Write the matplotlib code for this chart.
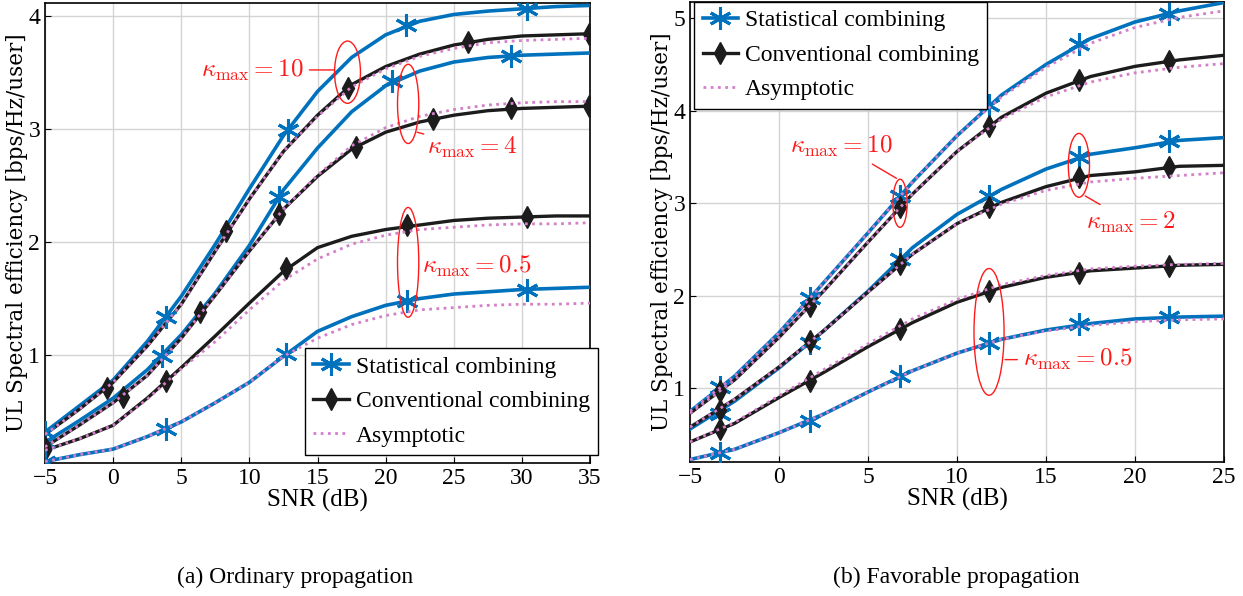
import matplotlib
matplotlib.use("Agg")
import matplotlib.pyplot as plt
from matplotlib.lines import Line2D
from matplotlib.patches import Ellipse

plt.rcParams['font.family'] = ['Liberation Serif', 'DejaVu Serif']
plt.rcParams['mathtext.fontset'] = 'cm'

# ---------------- (a) ordinary propagation ----------------
snr_a = [-5, -2.5, 0, 2.5, 5, 7.5, 10, 12.5, 15, 17.5, 20, 22.5, 25, 27.5, 30, 32.5, 35]

stat_a_k10 = [0.32, 0.55, 0.78, 1.12, 1.52, 1.98, 2.47, 2.94, 3.33, 3.63, 3.83, 3.95, 4.01, 4.04, 4.06, 4.08, 4.09]
conv_a_k10 = [0.30, 0.52, 0.76, 1.08, 1.45, 1.92, 2.38, 2.80, 3.12, 3.39, 3.55, 3.66, 3.74, 3.79, 3.82, 3.83, 3.84]
asym_a_k10 = [0.30, 0.52, 0.76, 1.08, 1.45, 1.92, 2.38, 2.80, 3.11, 3.37, 3.53, 3.64, 3.71, 3.76, 3.78, 3.79, 3.80]

stat_a_k4 = [0.23, 0.42, 0.62, 0.87, 1.18, 1.55, 1.97, 2.46, 2.83, 3.15, 3.38, 3.51, 3.59, 3.63, 3.65, 3.66, 3.67]
conv_a_k4 = [0.19, 0.38, 0.58, 0.82, 1.15, 1.53, 1.92, 2.29, 2.58, 2.82, 2.97, 3.06, 3.12, 3.16, 3.18, 3.19, 3.20]
asym_a_k4 = [0.19, 0.38, 0.58, 0.82, 1.15, 1.53, 1.92, 2.29, 2.59, 2.85, 3.01, 3.11, 3.17, 3.21, 3.23, 3.24, 3.24]

conv_a_k05 = [0.16, 0.26, 0.38, 0.62, 0.89, 1.17, 1.46, 1.74, 1.95, 2.05, 2.11, 2.15, 2.19, 2.21, 2.22, 2.23, 2.23]
asym_a_k05c = [0.16, 0.26, 0.38, 0.61, 0.88, 1.12, 1.40, 1.66, 1.85, 1.98, 2.06, 2.11, 2.13, 2.15, 2.16, 2.16, 2.17]
stat_a_k05 = [0.06, 0.12, 0.17, 0.28, 0.41, 0.58, 0.76, 0.99, 1.21, 1.34, 1.44, 1.50, 1.54, 1.56, 1.58, 1.59, 1.60]
asym_a_k05s = [0.06, 0.12, 0.17, 0.28, 0.41, 0.58, 0.76, 0.99, 1.15, 1.27, 1.35, 1.40, 1.42, 1.44, 1.45, 1.45, 1.46]

# marker positions (a)
mk_stat_a_k10 = ([-5, 3.9, 12.8, 21.5, 30.4], [0.32, 1.34, 2.99, 3.92, 4.06])
mk_conv_a_k10 = ([-0.44, 8.3, 17.2, 26.05, 34.9], [0.71, 2.10, 3.36, 3.77, 3.84])
mk_stat_a_k4 = ([-5, 3.6, 12.15, 20.5, 29.2], [0.23, 0.99, 2.40, 3.42, 3.64])
mk_conv_a_k4 = ([-5, 0.76, 6.4, 12.15, 17.8, 23.5, 29.2, 34.9], [0.19, 0.63, 1.38, 2.25, 2.84, 3.09, 3.18, 3.20])
mk_conv_a_k05 = ([-5, 3.9, 12.7, 21.6, 30.4], [0.16, 0.77, 1.77, 2.15, 2.22])
mk_stat_a_k05 = ([-5, 3.9, 12.7, 21.6, 30.4], [0.06, 0.35, 1.01, 1.48, 1.58])

# ---------------- (b) favorable propagation ----------------
snr_b = [-5, -2.5, 0, 2.5, 5, 7.5, 10, 12.5, 15, 17.5, 20, 22.5, 25]

stat_b_k10 = [0.75, 1.13, 1.60, 2.14, 2.68, 3.23, 3.73, 4.17, 4.50, 4.78, 4.96, 5.08, 5.17]
asym_b_k10s = [0.75, 1.13, 1.60, 2.14, 2.68, 3.23, 3.73, 4.15, 4.47, 4.73, 4.90, 5.01, 5.08]
conv_b_k10 = [0.73, 1.09, 1.55, 2.05, 2.58, 3.10, 3.56, 3.93, 4.19, 4.37, 4.48, 4.55, 4.60]
asym_b_k10c = [0.73, 1.09, 1.55, 2.05, 2.58, 3.10, 3.56, 3.91, 4.15, 4.31, 4.41, 4.47, 4.51]

stat_b_k2 = [0.56, 0.86, 1.22, 1.62, 2.05, 2.52, 2.88, 3.15, 3.37, 3.53, 3.60, 3.68, 3.71]
conv_b_k2 = [0.58, 0.88, 1.23, 1.62, 2.04, 2.45, 2.78, 3.01, 3.18, 3.30, 3.34, 3.40, 3.41]
asym_b_k2 = [0.58, 0.88, 1.23, 1.62, 2.04, 2.45, 2.78, 2.99, 3.14, 3.23, 3.27, 3.30, 3.33]

conv_b_k05 = [0.42, 0.62, 0.90, 1.17, 1.45, 1.71, 1.93, 2.09, 2.20, 2.27, 2.30, 2.33, 2.34]
asym_b_k05c = [0.42, 0.63, 0.92, 1.20, 1.48, 1.75, 1.96, 2.12, 2.22, 2.29, 2.32, 2.34, 2.35]
stat_b_k05 = [0.23, 0.34, 0.52, 0.72, 0.96, 1.19, 1.38, 1.53, 1.63, 1.70, 1.75, 1.77, 1.78]
asym_b_k05s = [0.23, 0.34, 0.52, 0.72, 0.96, 1.19, 1.38, 1.53, 1.62, 1.68, 1.72, 1.74, 1.75]

mk_snr_b = [-3.3, 1.75, 6.8, 11.8, 16.85, 21.9]
mk_stat_b_k10 = [1.01, 1.98, 3.08, 4.06, 4.72, 5.05]
mk_conv_b_k10 = [0.97, 1.89, 2.96, 3.84, 4.33, 4.54]
mk_stat_b_k2 = [0.72, 1.49, 2.40, 3.08, 3.50, 3.67]
mk_conv_b_k2 = [0.77, 1.51, 2.34, 2.96, 3.28, 3.39]
mk_conv_b_k05 = [0.56, 1.08, 1.64, 2.05, 2.25, 2.32]
mk_stat_b_k05 = [0.30, 0.65, 1.13, 1.49, 1.69, 1.77]

blue = '#0072bd'
black = '#1c1c1c'
pink = '#d37fca'
red = '#ff1a1a'
star = (6, 2, 0)  # asterisk, MATLAB style


def stat(ax, x, y, mx, my):
    ax.plot(x, y, color=blue, lw=2.6, zorder=3)
    ax.plot(mx, my, ls='none', marker=star, ms=16, mec=blue, mew=2.2, zorder=4)


def conv(ax, x, y, mx, my):
    ax.plot(x, y, color=black, lw=2.4, zorder=3)
    ax.plot(mx, my, ls='none', marker='d', ms=11, color=black, zorder=4)


def asym(ax, x, y):
    ax.plot(x, y, color=pink, lw=2, ls=(0, (1, 1.6)), zorder=5)


def style(ax, lx):
    ax.grid(True, color='#d4d4d4', lw=1)
    ax.set_axisbelow(True)
    ax.tick_params(direction='in', labelsize=17, length=4)
    for s in ax.spines.values():
        s.set_linewidth(1.2)
    ax.set_xlabel('SNR (dB)', fontsize=18, labelpad=0)
    ax.set_ylabel('UL Spectral efficiency [bps/Hz/user]', fontsize=15.5,
                  family='DejaVu Serif')
    ax.yaxis.set_label_coords(lx, 0.5)


handles = [
    Line2D([], [], color=blue, lw=2.6, marker=star, ms=16, mew=2.2),
    Line2D([], [], color=black, lw=2.4, marker='d', ms=11),
    Line2D([], [], color=pink, lw=2, ls=(0, (1, 1.6))),
]
labels = ['Statistical combining', 'Conventional combining', 'Asymptotic']
leg_kw = dict(fontsize=17, fancybox=False, edgecolor='black', framealpha=1, handlelength=1.5,
              borderpad=0.35, labelspacing=0.55, handletextpad=0.3, borderaxespad=0)

fig = plt.figure(figsize=(12.43, 5.96), dpi=100)

# (a)
ax1 = fig.add_axes([0.0362, 0.2237, 0.4385, 0.771])
stat(ax1, snr_a, stat_a_k10, *mk_stat_a_k10)
conv(ax1, snr_a, conv_a_k10, *mk_conv_a_k10)
asym(ax1, snr_a, asym_a_k10)
stat(ax1, snr_a, stat_a_k4, *mk_stat_a_k4)
conv(ax1, snr_a, conv_a_k4, *mk_conv_a_k4)
asym(ax1, snr_a, asym_a_k4)
conv(ax1, snr_a, conv_a_k05, *mk_conv_a_k05)
asym(ax1, snr_a, asym_a_k05c)
stat(ax1, snr_a, stat_a_k05, *mk_stat_a_k05)
asym(ax1, snr_a, asym_a_k05s)
ax1.set_xlim(-5, 35)
ax1.set_ylim(0.05, 4.11)
ax1.set_xticks([-5, 0, 5, 10, 15, 20, 25, 30, 35])
ax1.set_yticks([1, 2, 3, 4])
style(ax1, -0.031)

for cx, cy, w, h in [(17.2, 3.50, 1.9, 0.55), (21.65, 3.22, 1.56, 0.70), (21.65, 1.82, 1.56, 0.97)]:
    ax1.add_patch(Ellipse((cx, cy), w, h, fill=False, ec=red, lw=1, zorder=6))
ax1.annotate(r'$\kappa_{\max} = 10$', xy=(16.25, 3.52), xytext=(14.0, 3.52), ha='right', va='center',
             color=red, fontsize=18, arrowprops=dict(arrowstyle='-', color=red, lw=1, shrinkA=2, shrinkB=0))
ax1.annotate(r'$\kappa_{\max} = 4$', xy=(22.3, 2.97), xytext=(23.0, 2.84), ha='left', va='center',
             color=red, fontsize=18, arrowprops=dict(arrowstyle='-', color=red, lw=1, shrinkA=0, shrinkB=0))
ax1.text(22.7, 1.78, r'$\kappa_{\max} = 0.5$', ha='left', va='center', color=red, fontsize=18)

leg1 = ax1.legend(handles, labels, loc='lower right', bbox_to_anchor=(1.015, 0.017), **leg_kw)
leg1.get_frame().set_linewidth(1)

# (b)
ax2 = fig.add_axes([0.5551, 0.2243, 0.4296, 0.773])
stat(ax2, snr_b, stat_b_k10, mk_snr_b, mk_stat_b_k10)
asym(ax2, snr_b, asym_b_k10s)
conv(ax2, snr_b, conv_b_k10, mk_snr_b, mk_conv_b_k10)
asym(ax2, snr_b, asym_b_k10c)
stat(ax2, snr_b, stat_b_k2, mk_snr_b, mk_stat_b_k2)
conv(ax2, snr_b, conv_b_k2, mk_snr_b, mk_conv_b_k2)
asym(ax2, snr_b, asym_b_k2)
conv(ax2, snr_b, conv_b_k05, mk_snr_b, mk_conv_b_k05)
asym(ax2, snr_b, asym_b_k05c)
stat(ax2, snr_b, stat_b_k05, mk_snr_b, mk_stat_b_k05)
asym(ax2, snr_b, asym_b_k05s)
ax2.set_xlim(-5, 25)
ax2.set_ylim(0.2, 5.18)
ax2.set_xticks([-5, 0, 5, 10, 15, 20, 25])
ax2.set_yticks([1, 2, 3, 4, 5])
style(ax2, -0.032)

for cx, cy, w, h in [(6.8, 3.0, 0.8, 0.52), (16.85, 3.41, 1.19, 0.69), (11.8, 1.61, 1.69, 1.37)]:
    ax2.add_patch(Ellipse((cx, cy), w, h, fill=False, ec=red, lw=1, zorder=6))
ax2.annotate(r'$\kappa_{\max} = 10$', xy=(6.6, 3.27), xytext=(3.5, 3.62), ha='center', va='center',
             color=red, fontsize=18, arrowprops=dict(arrowstyle='-', color=red, lw=1, shrinkA=4, shrinkB=0))
ax2.annotate(r'$\kappa_{\max} = 2$', xy=(17.2, 3.08), xytext=(19.8, 2.79), ha='center', va='center',
             color=red, fontsize=18, arrowprops=dict(arrowstyle='-', color=red, lw=1, shrinkA=4, shrinkB=0))
ax2.annotate(r'$\kappa_{\max} = 0.5$', xy=(12.7, 1.31), xytext=(13.7, 1.31), ha='left', va='center',
             color=red, fontsize=18, arrowprops=dict(arrowstyle='-', color=red, lw=1, shrinkA=2, shrinkB=0))

leg2 = ax2.legend(handles, labels, loc='upper left', bbox_to_anchor=(0.008, 1.0), **leg_kw)
leg2.get_frame().set_linewidth(1)

fig.text(0.237, 0.032, '(a) Ordinary propagation', ha='center', va='center', fontsize=17)
fig.text(0.769, 0.032, '(b) Favorable propagation', ha='center', va='center', fontsize=17)

fig.savefig('out.png', dpi=100)
